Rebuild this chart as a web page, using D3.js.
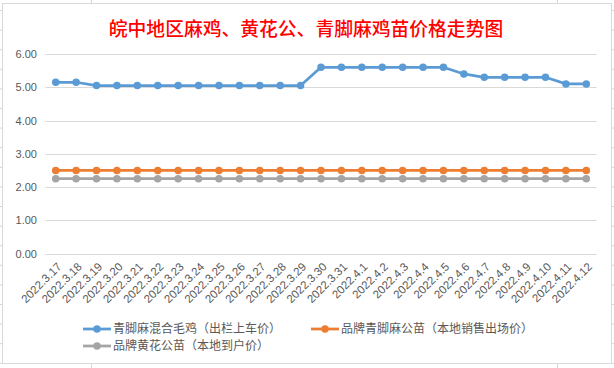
<!DOCTYPE html>
<html>
<head>
<meta charset="utf-8">
<script src="https://cdn.jsdelivr.net/npm/d3@7/dist/d3.min.js"></script>
<style>
  body { margin: 0; background: #fff; }
  svg { display: block; }
</style>
</head>
<body>
<div id="chart"></div>
<script>
// chart data
const dates = ['2022.3.17', '2022.3.18', '2022.3.19', '2022.3.20', '2022.3.21', '2022.3.22',
  '2022.3.23', '2022.3.24', '2022.3.25', '2022.3.26', '2022.3.27', '2022.3.28', '2022.3.29',
  '2022.3.30', '2022.3.31', '2022.4.1', '2022.4.2', '2022.4.3', '2022.4.4', '2022.4.5',
  '2022.4.6', '2022.4.7', '2022.4.8', '2022.4.9', '2022.4.10', '2022.4.11', '2022.4.12'];

const mixedChicken = [5.15, 5.15, 5.05, 5.05, 5.05, 5.05, 5.05, 5.05, 5.05, 5.05, 5.05, 5.05, 5.05,
  5.6, 5.6, 5.6, 5.6, 5.6, 5.6, 5.6, 5.4, 5.3, 5.3, 5.3, 5.3, 5.1, 5.1];
const qingjiaoChick = [2.5, 2.5, 2.5, 2.5, 2.5, 2.5, 2.5, 2.5, 2.5, 2.5, 2.5, 2.5, 2.5,
  2.5, 2.5, 2.5, 2.5, 2.5, 2.5, 2.5, 2.5, 2.5, 2.5, 2.5, 2.5, 2.5, 2.5];
const huanghuaChick = [2.25, 2.25, 2.25, 2.25, 2.25, 2.25, 2.25, 2.25, 2.25, 2.25, 2.25, 2.25, 2.25,
  2.25, 2.25, 2.25, 2.25, 2.25, 2.25, 2.25, 2.25, 2.25, 2.25, 2.25, 2.25, 2.25, 2.25];

const yTicks = [0, 1, 2, 3, 4, 5, 6];
const title = '皖中地区麻鸡、黄花公、青脚麻鸡苗价格走势图';

const series = [
  { name: '青脚麻混合毛鸡（出栏上车价）', values: mixedChicken, color: '#5B9BD5' },
  { name: '品牌青脚麻公苗（本地销售出场价）', values: qingjiaoChick, color: '#ED7D31' },
  { name: '品牌黄花公苗（本地到户价）', values: huanghuaChick, color: '#A5A5A5' }
];

const width = 614, height = 368;
const textColor = '#595959';
const font = '"Liberation Sans", Arial, sans-serif';
const cjk = '"Noto Sans CJK SC", sans-serif';

const svg = d3.select('#chart').append('svg')
  .attr('width', width)
  .attr('height', height);

// spreadsheet background around the chart
svg.append('rect').attr('width', width).attr('height', height).attr('fill', '#fff');
const sheet = svg.append('g').attr('stroke', '#d4d4dc').attr('stroke-width', 1);
[91.5, 557.5].forEach(x => sheet.append('line').attr('x1', x).attr('x2', x).attr('y1', 0).attr('y2', height));
d3.range(10.5, height, 19.6).forEach(y => {
  sheet.append('line').attr('x1', 0).attr('x2', width).attr('y1', y).attr('y2', y);
});

// chart area
svg.append('rect')
  .attr('x', 2.5).attr('y', 3.5)
  .attr('width', 609).attr('height', 360)
  .attr('fill', '#fff')
  .attr('stroke', '#d9d9d9');

svg.append('text')
  .attr('x', 306).attr('y', 36)
  .attr('text-anchor', 'middle')
  .attr('fill', '#ff0000')
  .style('font-family', cjk)
  .style('font-size', '18.8px')
  .style('font-weight', 500)
  .text(title);

const x = d3.scalePoint()
  .domain(dates)
  .range([45.5, 596.5])
  .padding(0.5);

const y = d3.scaleLinear()
  .domain([0, 6])
  .range([253.5, 54]);

// gridlines
svg.append('g')
  .selectAll('line')
  .data(yTicks)
  .enter()
  .append('line')
  .attr('x1', 45.5)
  .attr('x2', 596.5)
  .attr('y1', d => Math.round(y(d)) + 0.5)
  .attr('y2', d => Math.round(y(d)) + 0.5)
  .attr('stroke', '#d9d9d9')
  .attr('stroke-width', 1);

// y axis labels
const yAxis = svg.append('g')
  .attr('transform', 'translate(37,0)')
  .call(d3.axisLeft(y).tickValues(yTicks).tickFormat(d3.format('.2f')).tickSize(0).tickPadding(0));
yAxis.select('.domain').remove();
yAxis.selectAll('text')
  .attr('fill', textColor)
  .style('font-family', font)
  .style('font-size', '11px');

// x axis labels, rotated
const xAxis = svg.append('g')
  .attr('transform', 'translate(0,253.5)')
  .call(d3.axisBottom(x).tickSize(0).tickPadding(0));
xAxis.select('.domain').remove();
xAxis.selectAll('text')
  .attr('fill', textColor)
  .style('font-family', font)
  .style('font-size', '11.5px')
  .attr('text-anchor', 'end')
  .attr('dy', 0)
  .attr('y', 0)
  .attr('transform', 'translate(6,14) rotate(-45)');

// lines + markers
const line = d3.line()
  .x((d, i) => x(dates[i]))
  .y(d => y(d));

const seriesG = svg.append('g')
  .selectAll('g')
  .data(series.slice().reverse())
  .enter()
  .append('g');

seriesG.append('path')
  .attr('d', d => line(d.values))
  .attr('fill', 'none')
  .attr('stroke', d => d.color)
  .attr('stroke-width', 2.75)
  .attr('stroke-linejoin', 'round');

seriesG.selectAll('circle')
  .data(d => d.values.map((v, i) => ({ v, i, color: d.color })))
  .enter()
  .append('circle')
  .attr('cx', d => x(dates[d.i]))
  .attr('cy', d => y(d.v))
  .attr('r', 3.75)
  .attr('fill', d => d.color);

// legend
const legendPos = [[83, 329], [311, 329], [83, 346]];
const legend = svg.append('g')
  .selectAll('g')
  .data(series)
  .enter()
  .append('g')
  .attr('transform', (d, i) => `translate(${legendPos[i][0]},${legendPos[i][1]})`);

legend.append('line')
  .attr('x1', 0).attr('x2', 28)
  .attr('stroke', d => d.color)
  .attr('stroke-width', 2.75);
legend.append('circle')
  .attr('cx', 14)
  .attr('r', 3.75)
  .attr('fill', d => d.color);
legend.append('text')
  .attr('x', 30)
  .attr('dy', '0.35em')
  .attr('fill', textColor)
  .style('font-family', cjk)
  .style('font-size', '12px')
  .text(d => d.name);
</script>
</body>
</html>
